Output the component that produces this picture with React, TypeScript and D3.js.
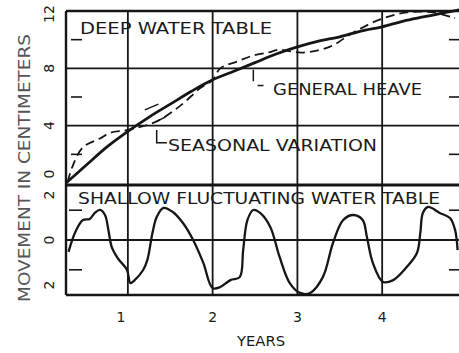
import * as d3 from 'd3';

const W = 459;
const H = 353;

// years along the bottom
const yearTicks = [1, 2, 3, 4];
const upperTicks = [0, 4, 8, 12];
const upperMinor = [2, 6, 10];
const lowerTicks = [-2, 0, 2];
const lowerMinor = [-1, 1];

// deep water table: general heave (solid)
const heaveYears = [0.27, 0.5, 0.75, 1.0, 1.25, 1.5, 1.75, 2.0, 2.25, 2.5, 2.75, 3.0, 3.25, 3.5, 3.75, 4.0, 4.25, 4.5, 4.75, 4.93];
const heaveCm = [0.0, 1.2, 2.5, 3.6, 4.6, 5.5, 6.4, 7.2, 7.8, 8.4, 9.0, 9.5, 9.9, 10.2, 10.6, 10.9, 11.3, 11.6, 11.9, 12.1];

// deep water table: seasonal variation (dashed)
const seasonalYears = [0.29, 0.34, 0.47, 0.67, 0.79, 1.0, 1.34, 1.62, 1.85, 2.0, 2.09, 2.3, 2.48, 2.65, 2.79, 2.9, 3.07, 3.38, 3.66, 3.97, 4.29, 4.6, 4.86];
const seasonalCm = [0.07, 1.05, 2.5, 3.1, 3.5, 3.7, 4.3, 5.4, 6.6, 7.2, 8.0, 8.5, 8.9, 9.1, 9.3, 9.2, 9.1, 9.5, 10.5, 11.4, 11.9, 11.9, 11.5];

// shallow fluctuating water table
const shallowYears = [0.3, 0.38, 0.47, 0.55, 0.61, 0.67, 0.73, 0.77, 0.81, 0.88, 0.99, 1.03, 1.08, 1.18, 1.23, 1.29, 1.34, 1.42, 1.53, 1.65, 1.77, 1.89, 2.0, 2.09, 2.21, 2.32, 2.36, 2.41, 2.48, 2.56, 2.68, 2.79, 2.91, 3.03, 3.15, 3.3, 3.42, 3.54, 3.66, 3.77, 3.82, 3.89, 4.01, 4.13, 4.29, 4.41, 4.45, 4.48, 4.54, 4.68, 4.8, 4.86, 4.89];
const shallowCm = [-0.52, 0.35, 0.87, 0.92, 1.18, 1.31, 1.09, 0.44, -0.31, -0.79, -1.31, -1.88, -1.75, -1.31, -0.87, 0.31, 1.0, 1.4, 1.22, 0.74, 0.0, -1.0, -2.1, -2.05, -1.75, -1.62, -0.44, 0.87, 1.31, 1.18, 0.57, -0.74, -1.88, -2.31, -2.31, -1.62, -0.13, 0.87, 1.09, 0.87, 0.13, -1.0, -1.83, -1.75, -1.18, -0.57, 0.31, 1.18, 1.44, 1.18, 0.96, 0.44, -0.44];

const INK = '#161616';
const FONT = '"DejaVu Sans", sans-serif';

export default function App() {
  const x = d3.scaleLinear().domain([0.27, 4.93]).range([66, 461]);
  const yU = d3.scaleLinear().domain([0, 12]).range([183, 11]);
  const yL = d3.scaleLinear().domain([-2.4, 2.4]).range([295, 185]);

  const top = yU(12);
  const mid = 185;
  const bottom = yL(-2.4);
  const left = x.range()[0];
  const right = x.range()[1];

  const lineU = d3.line<[number, number]>()
    .x(d => x(d[0]))
    .y(d => yU(d[1]))
    .curve(d3.curveCatmullRom.alpha(0.5));
  const lineL = d3.line<[number, number]>()
    .x(d => x(d[0]))
    .y(d => yL(d[1]))
    .curve(d3.curveCatmullRom.alpha(0.5));

  const heave = heaveYears.map((t, i) => [t, heaveCm[i]] as [number, number]);
  const seasonal = seasonalYears.map((t, i) => [t, seasonalCm[i]] as [number, number]);
  const shallow = shallowYears.map((t, i) => [t, shallowCm[i]] as [number, number]);

  const txt = { fontFamily: FONT, fill: '#1a1a1a', fontWeight: 500 };

  return (
    <div style={{ position: 'fixed', left: 0, top: 0 }}>
      <svg width={W} height={H} style={{ display: 'block', background: '#fff' }}>
        {/* frame */}
        <g stroke={INK} fill="none" strokeWidth={2.4}>
          <line x1={left} x2={right} y1={top} y2={top} />
          <line x1={left} x2={left} y1={top} y2={bottom} />
          <line x1={left} x2={right} y1={mid} y2={mid} strokeWidth={3} />
          <line x1={left} x2={right} y1={bottom} y2={bottom} />
        </g>

        {/* grid */}
        <g stroke={INK} strokeWidth={1.8}>
          {yearTicks.map(t => (
            <line key={'v' + t} x1={x(t)} x2={x(t)} y1={top} y2={bottom} />
          ))}
          {[4, 8].map(v => (
            <line key={'hu' + v} x1={left} x2={right} y1={yU(v)} y2={yU(v)} />
          ))}
          <line x1={left} x2={right} y1={yL(0)} y2={yL(0)} />
        </g>

        {/* minor ticks */}
        <g stroke={INK} strokeWidth={1.6}>
          {upperMinor.map(v => (
            <g key={'mu' + v}>
              <line x1={left + 5} x2={left + 16} y1={yU(v)} y2={yU(v)} />
              <line x1={right - 12} x2={right} y1={yU(v)} y2={yU(v)} />
            </g>
          ))}
          {lowerMinor.map(v => (
            <g key={'ml' + v}>
              <line x1={left + 3} x2={left + 16} y1={yL(v * 1.3)} y2={yL(v * 1.3)} />
              <line x1={right - 12} x2={right} y1={yL(v * 1.3)} y2={yL(v * 1.3)} />
            </g>
          ))}
        </g>

        {/* curves */}
        <path d={lineU(seasonal) ?? ''} fill="none" stroke={INK} strokeWidth={1.8} strokeDasharray="9,5" />
        <path d={lineU(heave) ?? ''} fill="none" stroke={INK} strokeWidth={2.8} />
        <path d={lineL(shallow) ?? ''} fill="none" stroke={INK} strokeWidth={2.3} />

        {/* hand marks and leaders */}
        <g stroke={INK} strokeWidth={1.5} fill="none">
          <line x1={x(1.2)} x2={x(1.36)} y1={yU(5.1)} y2={yU(5.5)} />
          <line x1={x(1.34)} x2={x(1.44)} y1={yU(4.3)} y2={yU(4.6)} />
          <polyline points={`${x(1.34)},${yU(3.7)} ${x(1.34)},${yU(2.8)} ${x(1.46)},${yU(2.8)}`} />
          <polyline points={`${x(2.48)},${yU(7.9)} ${x(2.48)},${yU(7.1)}`} />
          <line x1={x(2.53)} x2={x(2.6)} y1={yU(6.8)} y2={yU(6.8)} />
        </g>

        {/* panel labels */}
        <text x={80} y={34} fontSize={16} textLength={192} lengthAdjust="spacingAndGlyphs" {...txt}>DEEP WATER TABLE</text>
        <text x={273} y={95} fontSize={16} textLength={149} lengthAdjust="spacingAndGlyphs" {...txt}>GENERAL HEAVE</text>
        <text x={168} y={151} fontSize={16} textLength={209} lengthAdjust="spacingAndGlyphs" {...txt}>SEASONAL VARIATION</text>
        <text x={78} y={204} fontSize={15} textLength={362} lengthAdjust="spacingAndGlyphs" {...txt}>SHALLOW FLUCTUATING WATER TABLE</text>

        {/* y tick labels, written sideways */}
        {upperTicks.map(v => {
          const cy = Math.max(14, Math.min(174, yU(v)));
          return (
            <text key={'tu' + v} transform={`translate(49,${cy}) rotate(-90)`} textAnchor="middle" dy="0.35em" fontSize={14} {...txt}>{v}</text>
          );
        })}
        {lowerTicks.map(v => {
          const cy = Math.max(195, Math.min(285, yL(v)));
          return (
            <text key={'tl' + v} transform={`translate(49,${cy}) rotate(-90)`} textAnchor="middle" dy="0.35em" fontSize={14} {...txt}>{Math.abs(v)}</text>
          );
        })}

        {/* x tick labels */}
        {yearTicks.map(t => (
          <text key={'tx' + t} x={x(t) - (t === 1 ? 7 : 0)} y={322} textAnchor="middle" fontSize={14} {...txt}>{t}</text>
        ))}

        <text x={261} y={346} textAnchor="middle" fontSize={14} textLength={48} lengthAdjust="spacingAndGlyphs" {...txt}>YEARS</text>
        <text transform="translate(30,168) rotate(-90)" textAnchor="middle" fontSize={16} textLength={268} lengthAdjust="spacingAndGlyphs" fontFamily={FONT} fill="#555">MOVEMENT IN CENTIMETERS</text>
      </svg>
    </div>
  );
}
